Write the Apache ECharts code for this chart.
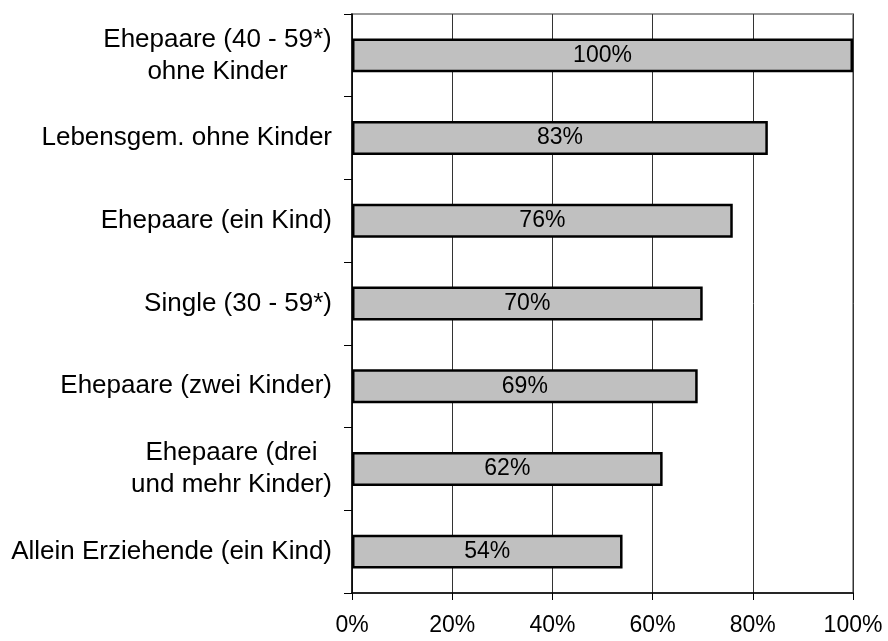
<!DOCTYPE html>
<html>
<head>
<meta charset="utf-8">
<script src="https://cdn.jsdelivr.net/npm/echarts@6/dist/echarts.min.js"></script>
<style>
html, body { margin: 0; padding: 0; background: #fff; }
#e_chart_1 { width: 888px; height: 641px; }
</style>
</head>
<body>
<div id="e_chart_1"></div>
<script>
var categories = [
    'Ehepaare (40 - 59*)\nohne Kinder',
    'Lebensgem. ohne Kinder',
    'Ehepaare (ein Kind)',
    'Single (30 - 59*)',
    'Ehepaare (zwei Kinder)',
    'Ehepaare (drei\nund mehr Kinder)',
    'Allein Erziehende (ein Kind)'
];
var values = [100, 83, 76, 70, 69, 62, 54];
var xTicks = [0, 20, 40, 60, 80, 100];

var labelFont = '26px "Liberation Sans", Arial, sans-serif';

// multi-line labels: lines centred against each other, block right-aligned
var ctx = document.createElement('canvas').getContext('2d');
ctx.font = labelFont;
var rich = {};
var richKey = {};
categories.forEach(function (c, i) {
    var lines = c.split('\n');
    if (lines.length > 1) {
        var w = 0;
        lines.forEach(function (l) {
            w = Math.max(w, Math.ceil(ctx.measureText(l).width));
        });
        var key = 'm' + i;
        rich[key] = { width: w, align: 'center', fontSize: 26, lineHeight: 32, color: '#000' };
        richKey[c] = key;
    }
});

var dom = document.getElementById("e_chart_1");
var myChart = echarts.init(dom);
var option = {
    animation: false,
    textStyle: {
        fontFamily: 'Liberation Sans, Arial, sans-serif'
    },
    grid: {
        left: 352,
        right: 35,
        top: 14,
        bottom: 48,
        show: true,
        borderColor: '#999',
        borderWidth: 2,
        backgroundColor: 'transparent'
    },
    xAxis: {
        type: 'value',
        min: xTicks[0],
        max: xTicks[xTicks.length - 1],
        interval: 20,
        axisLine: {
            show: true,
            lineStyle: { color: '#000', width: 1.5 }
        },
        axisTick: {
            show: true,
            length: 7,
            lineStyle: { color: '#000' }
        },
        axisLabel: {
            formatter: '{value}%',
            color: '#000',
            fontSize: 23,
            margin: 21
        },
        splitLine: {
            show: true,
            lineStyle: { color: '#333', width: 1 }
        }
    },
    yAxis: {
        type: 'category',
        inverse: true,
        data: categories,
        axisLine: {
            show: true,
            lineStyle: { color: '#000', width: 1.5 }
        },
        axisTick: {
            show: true,
            length: 8,
            lineStyle: { color: '#000' }
        },
        axisLabel: {
            color: '#000',
            fontSize: 26,
            lineHeight: 32,
            margin: 20,
            align: 'right',
            rich: rich,
            formatter: function (val) {
                var key = richKey[val];
                if (!key) return val;
                return val.split('\n').map(function (l) {
                    return '{' + key + '|' + l + '}';
                }).join('\n');
            }
        },
        splitLine: { show: false }
    },
    series: [{
        type: 'bar',
        data: values,
        barWidth: '41%',
        itemStyle: {
            color: '#c0c0c0',
            borderColor: '#000',
            borderWidth: 2.5
        },
        label: {
            show: true,
            position: 'inside',
            formatter: '{c}%',
            color: '#000',
            fontSize: 23
        }
    }]
};
myChart.setOption(option);
</script>
</body>
</html>
